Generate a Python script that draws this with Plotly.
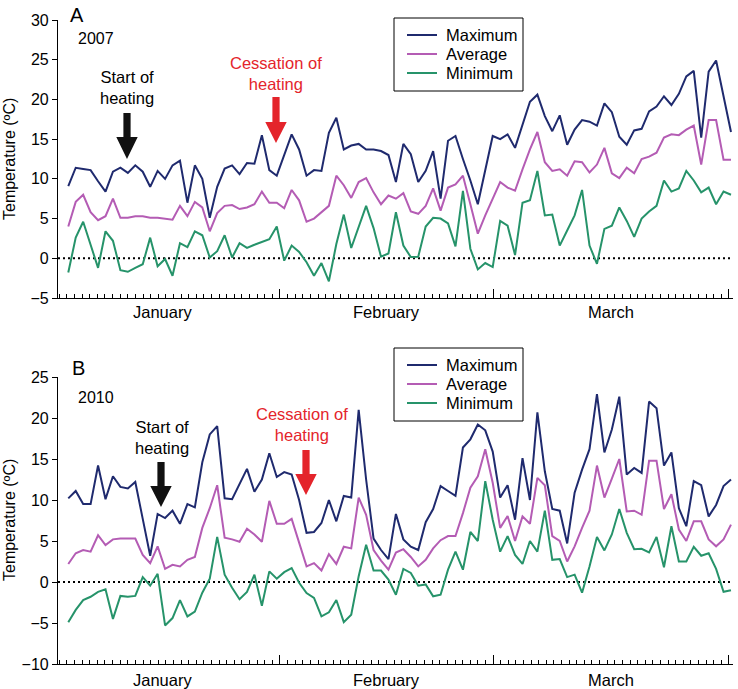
import plotly.graph_objects as go

# daily values, 1 Jan - 31 Mar
days = list(range(90))

max_2007 = [9.1, 11.4, 11.25, 11.1, 9.7, 8.4, 10.9, 11.4, 10.75, 11.7,
            10.9, 9.0, 11.0, 10.0, 11.7, 12.3, 7.0, 11.7, 10.0, 5.1,
            9.0, 11.3, 11.7, 10.6, 12.0, 11.9, 15.5, 11.1, 10.4, 13.1,
            15.6, 13.7, 10.4, 11.1, 11.0, 15.8, 17.7, 13.7, 14.2, 14.4,
            13.7, 13.7, 13.5, 13.0, 9.6, 14.4, 13.1, 9.6, 11.0, 13.5,
            7.5, 14.8, 15.4, 12.5, 9.8, 6.8, 11.2, 15.4, 15.0, 15.6,
            13.9, 16.9, 19.7, 20.6, 17.9, 16.0, 18.0, 14.3, 16.2, 17.4,
            17.2, 16.7, 19.5, 18.4, 15.3, 14.3, 16.1, 16.3, 18.5, 19.1,
            20.4, 19.3, 20.7, 22.9, 23.6, 15.2, 23.5, 24.9, 20.4, 15.9]
avg_2007 = [4.0, 7.1, 8.0, 5.8, 4.8, 5.3, 7.5, 5.1, 5.1, 5.3,
            5.3, 5.1, 5.1, 5.0, 4.85, 6.6, 5.3, 7.1, 6.4, 3.4,
            5.7, 6.6, 6.7, 6.2, 6.4, 6.8, 8.4, 7.0, 7.0, 6.3,
            8.6, 7.3, 4.6, 5.0, 5.8, 6.6, 10.4, 9.2, 7.6, 9.6,
            10.1, 8.3, 6.8, 7.9, 7.5, 8.2, 5.9, 5.6, 6.6, 8.8,
            6.0, 8.9, 9.3, 10.4, 6.8, 3.1, 5.4, 7.5, 9.6, 8.9,
            8.5, 11.2, 13.7, 15.9, 12.1, 11.0, 11.2, 10.4, 12.2, 12.1,
            10.8, 11.8, 13.9, 10.7, 10.1, 11.4, 10.7, 12.5, 12.8, 13.3,
            15.2, 15.6, 15.5, 16.2, 16.7, 11.8, 17.4, 17.4, 12.4, 12.4]
min_2007 = [-1.8, 2.6, 4.6, 1.7, -1.2, 3.4, 2.2, -1.5, -1.7, -1.2,
            -0.75, 2.6, -1.0, -0.1, -2.2, 1.9, 1.4, 3.4, 2.9, 0.1,
            0.9, 2.9, 0.1, 1.9, 1.3, 1.7, 2.1, 2.4, 4.0, -0.3,
            1.6, 0.8, -0.5, -2.2, -0.6, -2.9, 1.8, 5.5, 1.3, 4.0,
            6.6, 3.8, 0.2, 0.6, 5.8, 1.6, 0.15, 0.2, 4.0, 5.1,
            5.0, 4.4, 1.5, 8.5, 1.2, -1.4, -0.6, -1.1, 4.7, 4.1,
            0.4, 7.0, 7.3, 11.0, 5.4, 5.5, 1.6, 3.5, 5.4, 8.6,
            1.6, -0.7, 3.7, 4.1, 6.4, 4.7, 2.7, 5.0, 5.9, 6.6,
            9.8, 8.4, 8.8, 11.0, 9.8, 8.3, 8.9, 6.8, 8.4, 8.0]

max_2010 = [10.2, 11.1, 9.5, 9.5, 14.2, 10.1, 12.9, 11.6, 11.4, 12.2,
            7.7, 3.2, 8.3, 7.8, 8.7, 7.1, 9.5, 9.1, 14.6, 18.0,
            19.0, 10.2, 10.1, 11.9, 13.8, 11.0, 12.5, 15.7, 12.8, 13.4,
            13.1, 10.0, 6.0, 6.1, 7.2, 10.0, 7.4, 10.5, 10.3, 21.0,
            12.5, 5.3, 3.9, 2.8, 8.3, 5.2, 4.3, 3.9, 7.3, 8.9,
            11.7, 11.1, 10.5, 16.4, 17.4, 19.2, 18.5, 15.9, 10.3, 11.8,
            7.6, 15.1, 10.0, 20.7, 13.5, 8.9, 8.7, 4.7, 10.9, 13.7,
            16.2, 22.9, 15.8, 18.6, 22.6, 13.1, 13.9, 13.3, 22.0, 21.2,
            14.2, 15.8, 9.0, 6.8, 12.3, 11.8, 8.0, 9.4, 11.7, 12.5]
avg_2010 = [2.2, 3.5, 3.9, 3.7, 5.7, 4.5, 5.2, 5.3, 5.3, 5.3,
            3.3, 2.3, 4.35, 1.6, 2.1, 1.9, 2.7, 3.05, 6.6, 9.0,
            11.8, 5.4, 5.2, 4.9, 6.5, 5.8, 4.9, 9.9, 7.1, 7.1,
            7.7, 4.8, 1.9, 2.3, 1.4, 3.4, 2.2, 4.3, 4.1, 10.3,
            8.2, 3.9, 2.6, 1.5, 3.6, 4.0, 3.05, 1.9, 2.7, 4.1,
            5.1, 5.6, 5.6, 8.4, 11.5, 12.9, 16.2, 12.1, 6.6, 8.05,
            5.0, 8.0, 7.1, 12.7, 11.8, 5.6, 5.0, 2.5, 4.35, 6.6,
            8.7, 14.2, 10.3, 12.6, 15.0, 8.6, 8.7, 8.2, 14.8, 14.8,
            8.9, 10.7, 6.4, 5.0, 7.4, 7.4, 5.2, 4.35, 5.2, 7.0]
min_2010 = [-4.9, -3.4, -2.2, -1.8, -1.2, -0.9, -4.5, -1.7, -1.8, -1.7,
            0.6, -0.45, 1.0, -5.3, -4.4, -2.2, -4.2, -3.6, -1.3, 0.4,
            5.5, 0.9, -0.7, -2.1, -1.2, 0.9, -2.9, 1.3, 0.4, 1.2,
            1.7, -0.1, -1.35, -1.95, -4.2, -3.7, -2.2, -4.9, -4.0, 0.7,
            4.55, 1.4, 1.4, 0.3, -1.55, 1.6, 1.1, -0.45, -0.3, -1.75,
            -1.55, 1.5, 3.7, 1.5, 6.1, 5.0, 12.3, 7.6, 3.7, 5.6,
            3.3, 2.2, 5.0, 3.7, 8.7, 2.7, 2.8, 0.6, 0.9, -1.3,
            1.9, 5.5, 3.85, 5.8, 8.9, 6.0, 4.0, 4.05, 3.6, 5.5,
            1.8, 6.8, 2.5, 2.5, 4.3, 3.2, 3.5, 1.6, -1.2, -1.0]

series_names = ["Maximum", "Average", "Minimum"]
series_colors = ["#1f2a6e", "#b45cb4", "#26936a"]

# calendar (day boundaries, 0 = start of 1 Jan)
month_names = ["January", "February", "March"]
month_starts = [0, 31, 59, 90]

FONT = "Liberation Sans, Arial, sans-serif"
W, H = 738, 689
L, R, T, B = 58, 5, 20, 25


def pxx(p):  # window pixel -> paper x
    return (p - L) / (W - L - R)


def pxy(p):  # window pixel -> paper y
    return (H - B - p) / (H - T - B)


fig = go.Figure()

panels = [
    (1, [max_2007, avg_2007, min_2007]),
    (2, [max_2010, avg_2010, min_2010]),
]
for row, vals in panels:
    for name, v, col in zip(series_names, vals, series_colors):
        fig.add_trace(go.Scatter(
            x=days, y=v, name=name, mode="lines",
            line=dict(color=col, width=2),
            xaxis="x" if row == 1 else "x2",
            yaxis="y" if row == 1 else "y2",
            showlegend=False,
        ))

tickfont = dict(family=FONT, size=16, color="black")
data_x = dict(range=[-1.38, 89.27], showline=False, showticklabels=False,
              ticks="", showgrid=False, zeroline=False, automargin=False)
cal_x = dict(range=[1.83, 90.53], showline=True, linecolor="black", linewidth=1.2,
             ticks="inside", tickvals=month_starts[1:], ticklen=9, tickwidth=1.2,
             tickcolor="black", showticklabels=False, showgrid=False, zeroline=False,
             automargin=False,
             minor=dict(dtick=1, tick0=0, ticks="inside", ticklen=4, tickwidth=1,
                        tickcolor="black", showgrid=False))
yax = dict(showline=True, linecolor="black", linewidth=1.2, ticks="outside",
           ticklen=5, tickwidth=1.2, tickcolor="black", dtick=5, showgrid=False,
           zeroline=False, tickfont=tickfont, automargin=False)

dom_a = [pxy(298), 1.0]
dom_b = [0.0, pxy(377)]

fig.update_layout(
    width=W, height=H,
    margin=dict(l=L, r=R, t=T, b=B, autoexpand=False),
    paper_bgcolor="white", plot_bgcolor="white",
    font=dict(family=FONT, size=16, color="black"),
    xaxis=dict(data_x, anchor="y"),
    xaxis2=dict(data_x, anchor="y2"),
    xaxis3=dict(cal_x, overlaying="x", anchor="y"),
    xaxis4=dict(cal_x, overlaying="x2", anchor="y2"),
    yaxis=dict(yax, domain=dom_a, range=[-5, 30], anchor="x"),
    yaxis2=dict(yax, domain=dom_b, range=[-10, 25], anchor="x2"),
    showlegend=False,
)

# dotted zero lines
for xr, yr in (("x", "y"), ("x2", "y2")):
    fig.add_shape(type="line", xref=xr + " domain", yref=yr, x0=0, x1=1, y0=0, y1=0,
                  line=dict(color="black", width=2, dash="2px,3px"), layer="below")

# month labels centred in each month
for xr, ycen in (("x3", 312), ("x4", 680)):
    for m, name in enumerate(month_names):
        fig.add_annotation(x=(month_starts[m] + month_starts[m + 1]) / 2, xref=xr,
                           y=pxy(ycen), yref="paper", text=name, showarrow=False,
                           font=dict(family=FONT, size=16.5), yanchor="middle")


def text(xp, yp, s, size=16.5, color="black", xanchor="center", angle=0):
    fig.add_annotation(x=pxx(xp), y=pxy(yp), xref="paper", yref="paper", text=s,
                       showarrow=False, font=dict(family=FONT, size=size, color=color),
                       xanchor=xanchor, yanchor="middle", textangle=angle)


def arrow(xc, ytop, yneck, ytip, color, shaft=3.6, head=10.7):
    pts = [(xc - shaft, ytop), (xc + shaft, ytop), (xc + shaft, yneck),
           (xc + head, yneck), (xc, ytip), (xc - head, yneck), (xc - shaft, yneck)]
    path = "M " + " L ".join(f"{pxx(a):.5f},{pxy(b):.5f}" for a, b in pts) + " Z"
    fig.add_shape(type="path", path=path, xref="paper", yref="paper",
                  fillcolor=color, line=dict(width=0))


def legend_box(top):
    # framed key: line sample + name for each series, 19px per row
    fig.add_shape(type="rect", xref="paper", yref="paper",
                  x0=pxx(394), x1=pxx(523), y0=pxy(top), y1=pxy(top + 73),
                  line=dict(color="black", width=1), fillcolor="white")
    for k, (name, col) in enumerate(zip(series_names, series_colors)):
        yc = top + 17 + 19 * k
        fig.add_shape(type="line", xref="paper", yref="paper",
                      x0=pxx(407), x1=pxx(437), y0=pxy(yc), y1=pxy(yc),
                      line=dict(color=col, width=2))
        text(444, yc, name, size=16.5, xanchor="left")


red = "#e4242b"
text(77, 15, "A", size=20)
text(96, 39, "2007", size=16)
text(9, 159, "Temperature (ºC)", size=16, angle=-90)
text(127, 88, "Start of<br>heating")
arrow(127, 113, 137, 159, "#111111")
text(276, 73, "Cessation of<br>heating", color=red)
arrow(276, 97, 122, 143, red)
legend_box(18)

text(78, 368, "B", size=20)
text(96, 398, "2010", size=16)
text(9, 520, "Temperature (ºC)", size=16, angle=-90)
text(162, 437, "Start of<br>heating")
arrow(161, 462, 486, 507, "#111111")
text(302, 425, "Cessation of<br>heating", color=red)
arrow(306, 450, 474, 495, red)
legend_box(348)

# drop the default page margin so the figure fills the window exactly
fig.write_html("out.html", config={"displayModeBar": False},
               post_script="document.body.style.margin = '0';")
